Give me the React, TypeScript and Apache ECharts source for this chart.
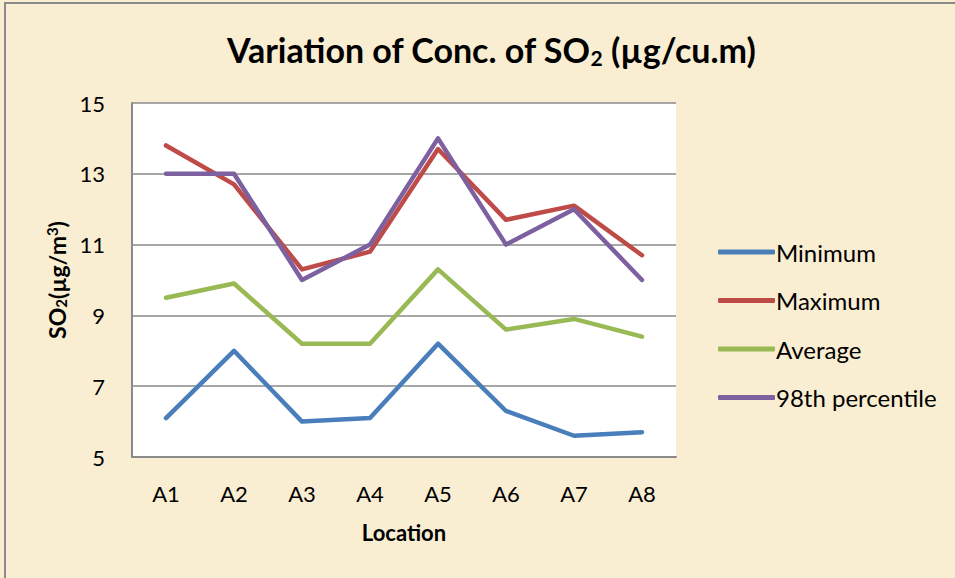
import React, { useEffect, useRef } from "react";
import * as echarts from "echarts";

const categories = ["A1", "A2", "A3", "A4", "A5", "A6", "A7", "A8"];
const minimum = [6.1, 8.0, 6.0, 6.1, 8.2, 6.3, 5.6, 5.7];
const maximum = [13.8, 12.7, 10.3, 10.8, 13.7, 11.7, 12.1, 10.7];
const average = [9.5, 9.9, 8.2, 8.2, 10.3, 8.6, 8.9, 8.4];
const p98 = [13, 13, 10, 11, 14, 11, 12, 10];
const seriesNames = ["Minimum", "Maximum", "Average", "98th percentile"];
const colors = ["#4a7ebb", "#be4b48", "#98b954", "#7d60a0"];

const FONT = "Lato, 'Open Sans', sans-serif";

export default function App() {
  const ref = useRef<HTMLDivElement>(null);
  useEffect(() => {
    if (!ref.current) return;
    const chart = echarts.init(ref.current, undefined, { renderer: "svg" });
    const dataSets = [minimum, maximum, average, p98];
    chart.setOption({
      animation: false,
      backgroundColor: "#f9edd2",
      graphic: [
        {
          type: "rect",
          shape: { x: 5, y: 3, width: 960, height: 600 },
          style: { fill: "none", stroke: "#8a8a8a", lineWidth: 2 },
        },
      ],
      title: {
        text: "Variation of Conc. of SO{sub|2} (µg/cu.m)",
        left: 486,
        textAlign: "center",
        top: 26,
        textStyle: {
          fontFamily: FONT,
          fontWeight: "bold",
          fontSize: 34,
          color: "#000",
          rich: {
            sub: {
              fontFamily: FONT,
              fontWeight: "bold",
              fontSize: 21,
              padding: [16, 0, 0, 0],
              color: "#000",
            },
          },
        },
      },
      legend: {
        orient: "vertical",
        left: 713,
        top: 235,
        itemWidth: 57,
        itemHeight: 5,
        itemGap: 24.5,
        icon: "roundRect",
        textStyle: { fontFamily: FONT, fontSize: 24, color: "#000", padding: [0, 0, 0, -4] },
        data: seriesNames,
      },
      grid: { left: 132, top: 103, right: 279, bottom: 121, show: true, backgroundColor: "#ffffff", borderWidth: 0 },
      xAxis: {
        type: "category",
        data: categories,
        boundaryGap: true,
        axisLine: { lineStyle: { color: "#8a8a8a", width: 2 } },
        axisTick: { show: false },
        axisLabel: { fontFamily: FONT, fontSize: 22, color: "#000", margin: 25 },
        name: "Location",
        nameLocation: "middle",
        nameGap: 64,
        nameTextStyle: { fontFamily: FONT, fontSize: 22, fontWeight: "bold", color: "#000" },
      },
      yAxis: {
        type: "value",
        min: 5,
        max: 15,
        interval: 2,
        axisLine: { show: true, lineStyle: { color: "#8a8a8a", width: 2 } },
        axisTick: { show: false },
        splitLine: { lineStyle: { color: "#8a8a8a", width: 1.5 } },
        axisLabel: { fontFamily: FONT, fontSize: 22, color: "#000", margin: 27 },
        name: "SO{sub|2}(µg/m{sup|3})",
        nameLocation: "middle",
        nameRotate: 90,
        nameGap: 60,
        nameTextStyle: {
          fontFamily: FONT,
          fontSize: 23,
          fontWeight: "bold",
          color: "#000",
          rich: {
            sub: { fontFamily: FONT, fontSize: 15, fontWeight: "bold", color: "#000", padding: [9, 0, 0, 0] },
            sup: { fontFamily: FONT, fontSize: 15, fontWeight: "bold", color: "#000", padding: [0, 0, 9, 0] },
          },
        },
      },
      series: dataSets.map((d, i) => ({
        name: seriesNames[i],
        type: "line",
        data: d,
        showSymbol: false,
        symbol: "none",
        lineStyle: { width: 4.5, color: colors[i], cap: "round", join: "round" },
        itemStyle: { color: colors[i] },
      })),
    });
    return () => chart.dispose();
  }, []);
  return (
    <div
      ref={ref}
      style={{ position: "absolute", left: 0, top: 0, width: 955, height: 578 }}
    />
  );
}
